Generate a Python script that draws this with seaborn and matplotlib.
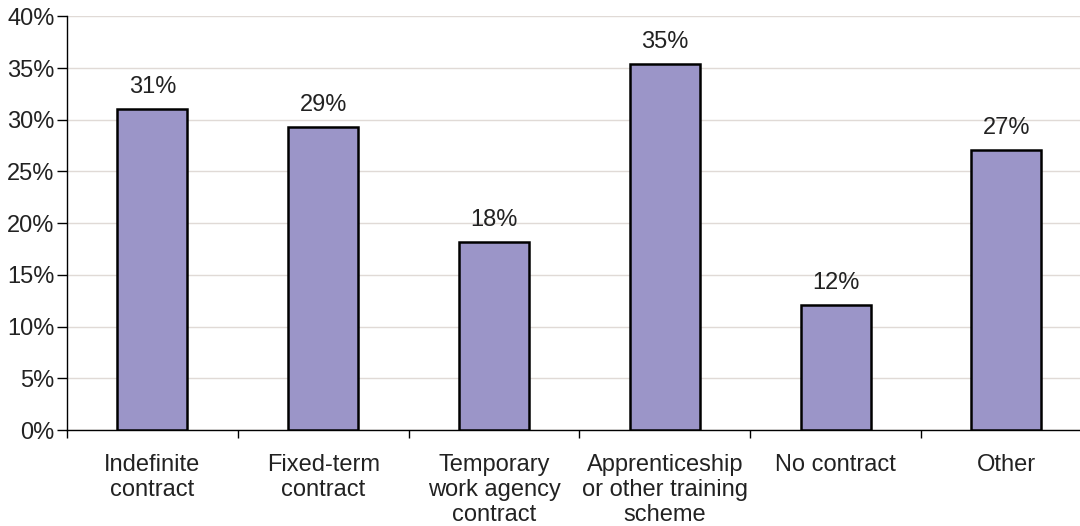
import matplotlib
matplotlib.use("Agg")
import matplotlib.pyplot as plt
import seaborn as sns
from matplotlib.ticker import PercentFormatter, MultipleLocator, FixedLocator

categories = [
    "Indefinite\ncontract",
    "Fixed-term\ncontract",
    "Temporary\nwork agency\ncontract",
    "Apprenticeship\nor other training\nscheme",
    "No contract",
    "Other",
]
shares = [31.0, 29.3, 18.2, 35.4, 12.1, 27.1]
value_labels = ["31%", "29%", "18%", "35%", "12%", "27%"]

sns.set_style("white")
plt.rcParams["font.family"] = ["Liberation Sans", "DejaVu Sans"]

fig = plt.figure(figsize=(10.8, 5.26), dpi=100)
ax = fig.add_axes([0.062, 0.1825, 0.949, 0.7865])

sns.barplot(x=categories, y=shares, color="#9b95c8", saturation=1,
            edgecolor="black", linewidth=1.8, width=0.41, ax=ax, zorder=3)

ax.set_ylim(0, 40)
ax.set_xlim(-0.5, 5.5)
ax.yaxis.set_major_locator(MultipleLocator(5))
ax.yaxis.set_major_formatter(PercentFormatter(decimals=0))
ax.grid(axis="y", color="#e0dad6", linewidth=1.0, zorder=0)
ax.set_axisbelow(True)

for side in ["top", "right"]:
    ax.spines[side].set_visible(False)
for side in ["left", "bottom"]:
    ax.spines[side].set_color("black")
    ax.spines[side].set_linewidth(1.0)

ax.tick_params(axis="y", direction="out", length=7, width=1, color="black",
               labelsize=17, pad=2, left=True, labelcolor="#222222")
ax.tick_params(axis="x", which="major", length=0, labelsize=17, pad=17,
               labelcolor="#222222")
ax.xaxis.set_minor_locator(FixedLocator([-0.5, 0.5, 1.5, 2.5, 3.5, 4.5]))
ax.tick_params(axis="x", which="minor", direction="out", length=6, width=1,
               color="black", bottom=True)
for lbl in ax.get_xticklabels():
    lbl.set_linespacing(1.18)

ax.bar_label(ax.containers[0], labels=value_labels, padding=8, fontsize=17,
             color="#222222")
ax.set_xlabel("")
ax.set_ylabel("")

fig.savefig("out.png", dpi=100)
